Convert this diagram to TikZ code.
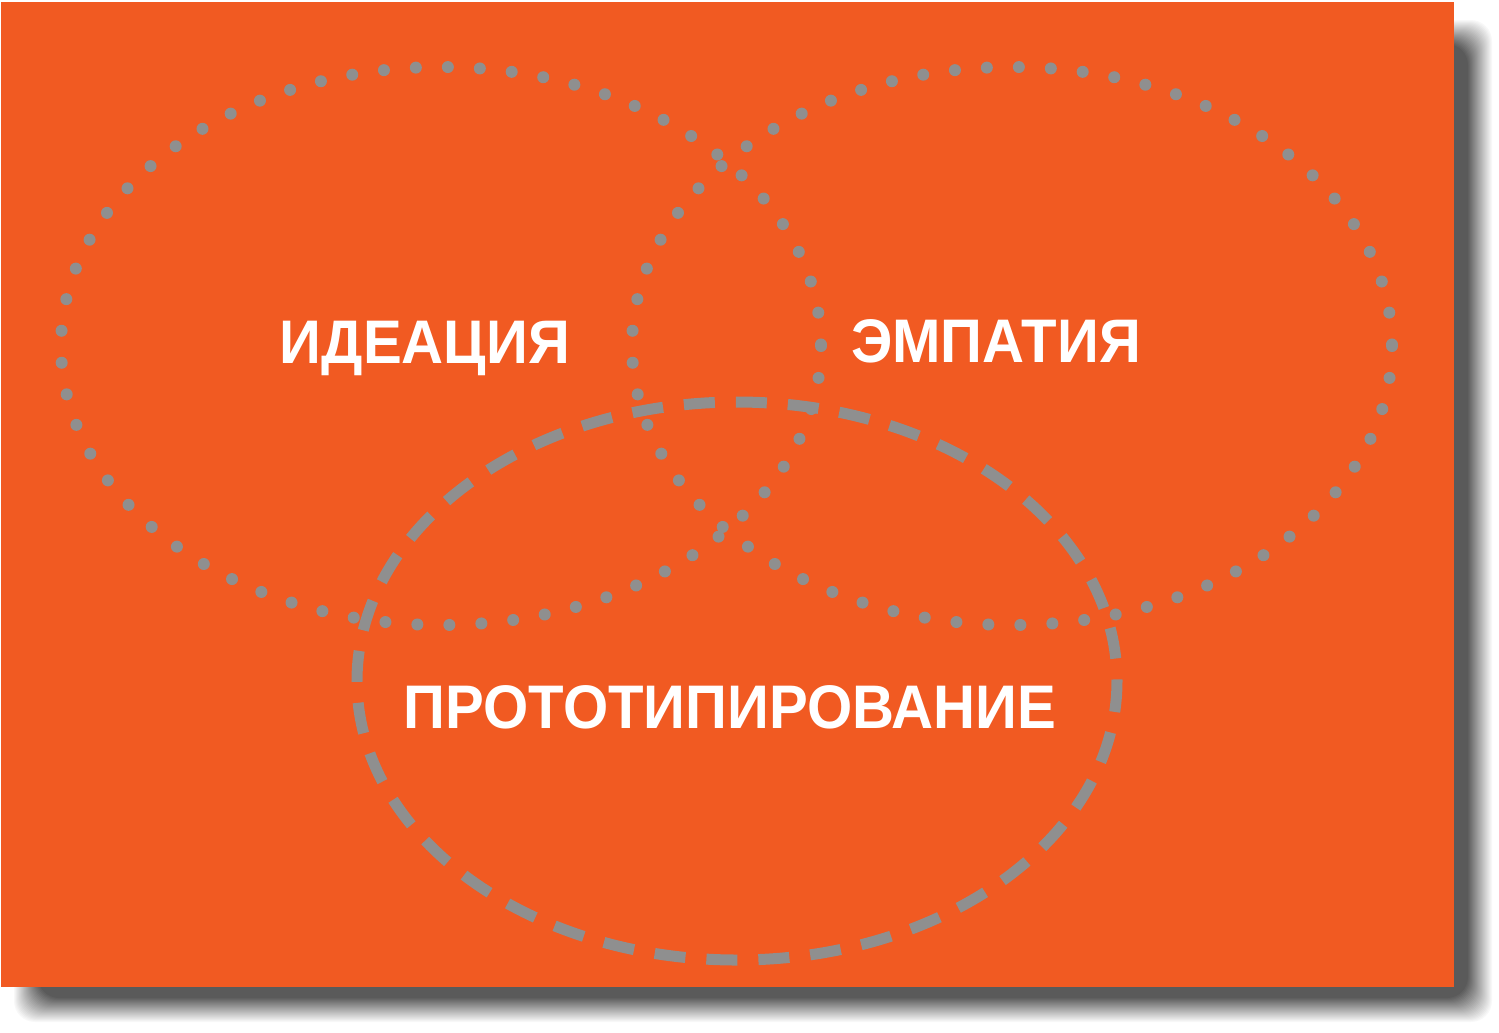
\documentclass[tikz,border=0pt]{standalone}
\usepackage{fontspec}
\setmainfont{Liberation Sans}
\newfontfamily\ringfont{Liberation Sans}[FakeStretch=0.945]
\definecolor{cardorange}{HTML}{F15A22}
\definecolor{ringgray}{HTML}{8F8F8F}
\definecolor{shadowgray}{HTML}{5A5A5A}
\newcommand\VennRing[4]{%
    \coordinate (#3) at (#1,#2);
    \draw[#4] (#3) ellipse [x radius=380, y radius=279];
}
\tikzset{
    dotted ring/.style={color=ringgray, line width=0.12cm, line cap=round, dash pattern=on 0pt off 0.32cm},
    dashed ring/.style={color=ringgray, line width=0.11cm, dash pattern=on 0.31cm off 0.21cm},
    ring label/.style={text=white, anchor=base, inner sep=0pt, font=\ringfont\bfseries\fontsize{17.5}{20}\selectfont},
}

\begin{document}
\begin{tikzpicture}[x=0.01cm,y=-0.01cm]
    \useasboundingbox (0,0) rectangle (1499,1032);
    % shadow
    \foreach \i in {0,...,24} {
        \pgfmathsetmacro\shade{100*(\i+1)/25}
        \fill[shadowgray!\shade!white, rounded corners=6] (14+\i,20+\i) rectangle (1492-\i,1022-\i);
    }
    \fill[cardorange] (1,2) rectangle (1454,987);
    \VennRing{441}{346}{ideaC}{dotted ring}
    \VennRing{1012}{346}{empathyC}{dotted ring}
    \VennRing{737}{681}{protoC}{dashed ring}
    \node[ring label] (ideation) at (425,363) {ИДЕАЦИЯ};
    \node[ring label] (empathy) at (996,362) {ЭМПАТИЯ};
    \node[ring label] (prototyping) at (730,728) {ПРОТОТИПИРОВАНИЕ};
\end{tikzpicture}
\end{document}
